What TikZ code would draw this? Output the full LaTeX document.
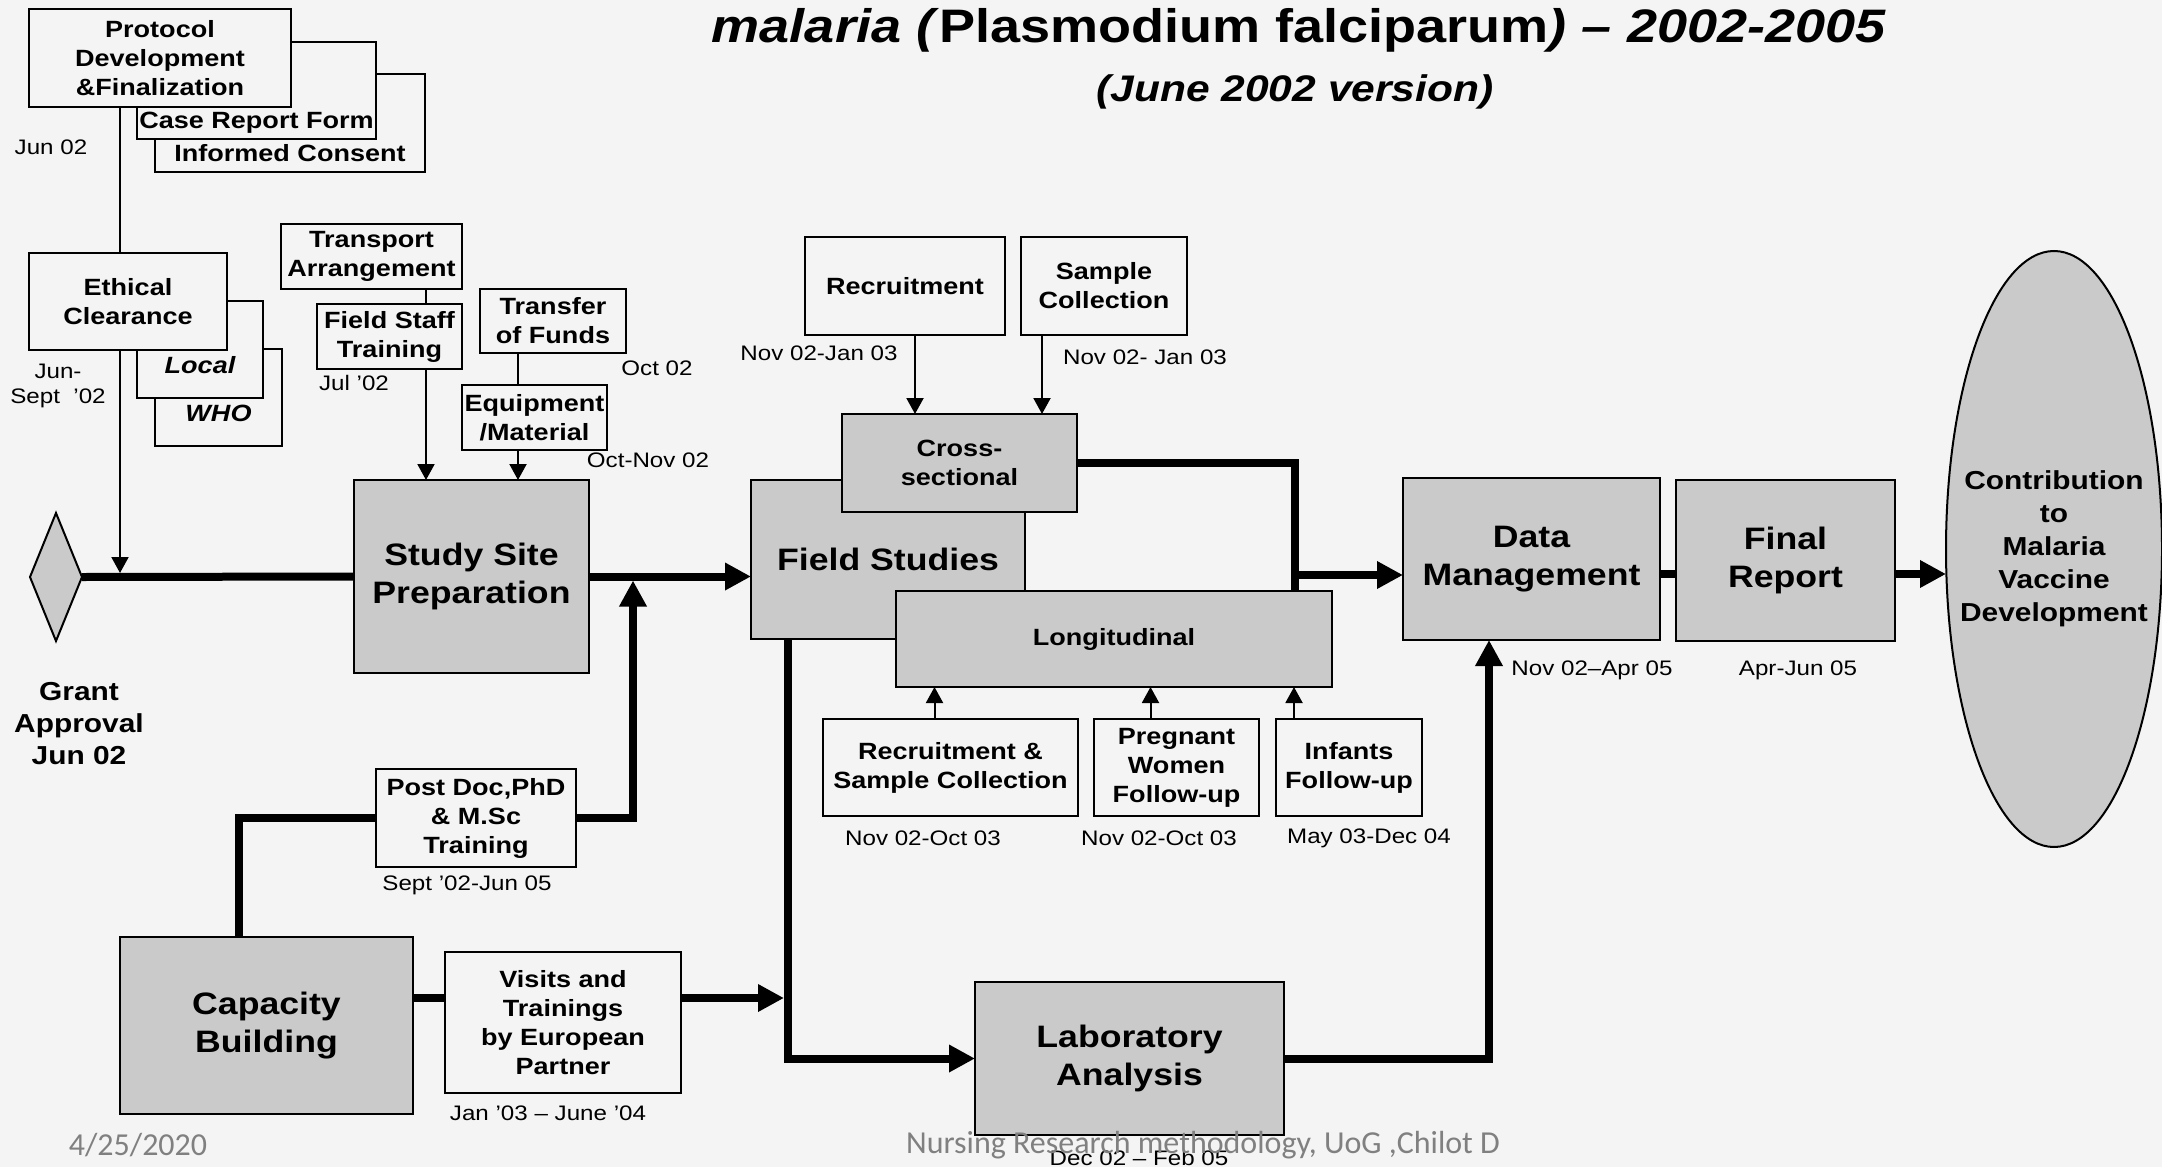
\documentclass[tikz,border=0pt]{standalone}
\usepackage{fontspec}
\setmainfont{Liberation Sans}[FakeStretch=1.15]
\newfontfamily\footfont{Carlito}
\usetikzlibrary{arrows.meta,shapes.geometric}
\definecolor{paper}{RGB}{244,244,244}
\definecolor{boxgray}{RGB}{202,202,202}
\definecolor{footgray}{RGB}{128,128,128}
\newcommand\fsz[2]{\fontsize{#1}{#2}\selectfont}

\begin{document}
\begin{tikzpicture}[x=1pt,y=-1pt,
  every node/.style={inner sep=0pt, outer sep=0pt},
  plain/.style={draw=black, line width=2.2pt, fill=paper, align=center, font=\bfseries\fsz{23.5}{29}},
  shaded/.style={plain, fill=boxgray},
  big/.style={shaded, font=\bfseries\fsz{31}{38.5}},
  date/.style={font=\fsz{21}{25}},
  thinline/.style={line width=2pt},
  thinarrow/.style={thinline, -{Triangle[length=16pt,width=17pt]}},
  thickline/.style={line width=8pt},
  thickarrow/.style={thickline, -{Triangle[length=26pt,width=26pt]}},
]
\useasboundingbox (0,0) rectangle (2162,1167);
\fill[paper] (0,0) rectangle (2162,1167);

% ---- title ----
\node[font=\bfseries\fsz{47}{56}] (title) at (1299,30)
  {\textit{malaria} \textit{(}Plasmodium falciparum\textit{)} \textit{– 2002-2005}};
\node[font=\bfseries\itshape\fsz{37}{44}] (subtitle) at (1295,92) {(June 2002 version)};

% ---- protocol stack ----
\node[plain, minimum width=270pt, text height=87.4pt, text depth=10.6pt] (ic) at (290,123) {Informed Consent};
\node[plain, minimum width=239pt, text height=86.4pt, text depth=10.6pt] (crf) at (256.5,90.5) {Case Report Form};
\node[plain, minimum width=262pt, minimum height=98pt] (proto) at (160,58) {Protocol\\Development\\\&Finalization};
\node[date] (jun) at (51,147) {Jun 02};

% ---- ethical clearance stack ----
\node[plain, minimum width=127pt, text height=72.4pt, text depth=24.6pt, font=\bfseries\itshape\fsz{23.5}{29}] (who) at (218.5,397.5) {WHO};
\node[plain, minimum width=126pt, text height=72.4pt, text depth=24.6pt, font=\bfseries\itshape\fsz{23.5}{29}] (local) at (200,349.5) {Local};
\node[plain, minimum width=198pt, minimum height=97pt] (ethical) at (128,301.5) {Ethical\\Clearance};
\node[date, align=center] (junsept) at (58,386) {Jun-\\Sept\ \ '02};

% ---- site preparation inputs ----
\node[plain, minimum width=181pt, minimum height=65pt] (transport) at (371.5,256.5) {Transport\\Arrangement};
\node[plain, minimum width=145pt, minimum height=65pt] (fieldstaff) at (389.5,336.5) {Field Staff\\Training};
\node[date] (jul) at (354,383) {Jul '02};
\node[plain, minimum width=146pt, minimum height=64pt] (transfer) at (553,321) {Transfer\\of Funds};
\node[date] (oct) at (657,368) {Oct 02};
\node[plain, minimum width=145pt, minimum height=65pt] (equip) at (534.5,417.5) {Equipment\\/Material};
\node[date] (octnov) at (648,460) {Oct-Nov 02};

% ---- main line ----
\node[diamond, draw=black, line width=2pt, fill=boxgray, minimum width=52pt, minimum height=128pt] (diam) at (56,577) {};
\node[font=\bfseries\fsz{26}{32}, align=center] (grant) at (79,724) {Grant\\Approval\\Jun 02};
\node[big, minimum width=235pt, minimum height=193pt] (study) at (471.5,576.5) {Study Site\\Preparation};

% ---- capacity building ----
\node[plain, minimum width=200pt, minimum height=98pt] (postdoc) at (476,818) {Post Doc,PhD\\\& M.Sc\\Training};
\node[date] (septjun) at (467,885) {Sept '02-Jun 05};
\node[big, minimum width=293pt, minimum height=177pt] (cap) at (266.5,1025.5) {Capacity\\Building};
\node[plain, minimum width=236pt, minimum height=141pt] (visits) at (563,1022.5) {Visits and\\Trainings\\by European\\Partner};
\node[date] (janjune) at (548,1113) {Jan '03 – June '04};

% ---- field studies ----
\node[plain, minimum width=200pt, minimum height=98pt] (recruit) at (905,286) {Recruitment};
\node[plain, minimum width=166pt, minimum height=98pt] (sample) at (1104,286) {Sample\\Collection};
\node[date] (novjan1) at (819,353) {Nov 02-Jan 03};
\node[date] (novjan2) at (1145,357) {Nov 02- Jan 03};
\node[big, minimum width=274pt, minimum height=159pt] (field) at (888,559.5) {Field Studies};
\node[shaded, minimum width=235pt, minimum height=98pt] (cross) at (959.5,463) {Cross-\\sectional};
\node[shaded, minimum width=436pt, minimum height=96pt] (lon) at (1114,639) {Longitudinal};
\node[plain, minimum width=255pt, minimum height=97pt] (rsc) at (950.5,767.5) {Recruitment \&\\Sample Collection};
\node[plain, minimum width=165pt, minimum height=97pt] (preg) at (1176.5,767.5) {Pregnant\\Women\\Follow-up};
\node[plain, minimum width=146pt, minimum height=97pt] (inf) at (1349,767.5) {Infants\\Follow-up};
\node[date] (novoct1) at (923,838) {Nov 02-Oct 03};
\node[date] (novoct2) at (1159,838) {Nov 02-Oct 03};
\node[date] (maydec) at (1369,838) {May 03-Dec 04};

% ---- laboratory, data, report ----
\node[big, minimum width=309pt, minimum height=153pt] (lab) at (1129.5,1058.5) {Laboratory\\Analysis};
\node[date] (decfeb) at (1139,1158) {Dec 02 – Feb 05};
\node[big, minimum width=257pt, minimum height=162pt] (dm) at (1531.5,559) {Data\\Management};
\node[date] (novapr) at (1592,670) {Nov 02–Apr 05};
\node[big, minimum width=219pt, minimum height=161pt] (final) at (1785.5,560.5) {Final\\Report};
\node[date] (aprjun) at (1798,670) {Apr-Jun 05};
\node[ellipse, draw=black, line width=2pt, fill=boxgray, minimum width=216pt, minimum height=596pt,
      inner xsep=-45pt, align=center, font=\bfseries\fsz{26}{33}] (ell) at (2054,549)
      {Contribution\\to\\Malaria\\Vaccine\\Development};

% ---- connector guide coordinates ----
\coordinate (vx) at (120,0);
\coordinate (fsx) at (426,0);
\coordinate (eqx) at (518,0);
\coordinate (cbx) at (239,0);
\coordinate (upx) at (633,0);
\coordinate (vy) at (0,998);
\coordinate (downx) at (788,0);
\coordinate (rcx) at (915,0);
\coordinate (scx) at (1042,0);
\coordinate (jx) at (1295,0);
\coordinate (ay) at (0,575);
\coordinate (rx) at (1489,0);
\coordinate (fy) at (0,574);

% ---- thin connectors ----
\draw[thinline] (proto.south -| vx) -- (ethical.north -| vx);
\draw[thinarrow, shorten >=4pt] (ethical.south -| vx) -- (diam.east -| vx);
\draw[thinline] (transport.south -| fsx) -- (fieldstaff.north -| fsx);
\draw[thinarrow] (fieldstaff.south -| fsx) -- (study.north -| fsx);
\draw[thinline] (transfer.south -| eqx) -- (equip.north -| eqx);
\draw[thinarrow] (equip.south -| eqx) -- (study.north -| eqx);
\draw[thinarrow] (recruit.south -| rcx) -- (cross.north -| rcx);
\draw[thinarrow] (sample.south -| scx) -- (cross.north -| scx);
\draw[thinarrow] ([xshift=-16pt]rsc.north) -- ([xshift=-16pt]rsc.north |- lon.south);
\draw[thinarrow] ([xshift=-26pt]preg.north) -- ([xshift=-26pt]preg.north |- lon.south);
\draw[thinarrow] ([xshift=-55pt]inf.north) -- ([xshift=-55pt]inf.north |- lon.south);

% ---- thick connectors ----
\draw[thickline] (diam.east) -- (study.west);
\draw[thickarrow] (study.east) -- (study.east -| field.west);
\draw[thickline] (cap.north -| cbx) |- (postdoc.west);
\draw[thickarrow, shorten >=4pt] (postdoc.east) -| (study.east -| upx);
\draw[thickline] (cap.east |- vy) -- (visits.west |- vy);
\draw[thickarrow, shorten >=4pt] (visits.east |- vy) -- (downx |- vy);
\draw[thickarrow] (field.south -| downx) |- (lab.west);
\draw[thickline] (cross.east) -| (lon.north -| jx);
\draw[thickarrow] (jx |- ay) -- (dm.west |- ay);
\draw[thickarrow] (lab.east) -| (dm.south -| rx);
\draw[thickline] (dm.east |- fy) -- (final.west |- fy);
\draw[thickarrow] (final.east |- fy) -- (ell.west |- fy);

% ---- footer ----
\node[font=\footfont\fsz{32}{38}, text=footgray] (fdate) at (138,1145) {4/25/2020};
\node[font=\footfont\fsz{32}{38}, text=footgray] (fcredit) at (1203,1145) {Nursing Research methodology, UoG ,Chilot D};
\end{tikzpicture}
\end{document}
